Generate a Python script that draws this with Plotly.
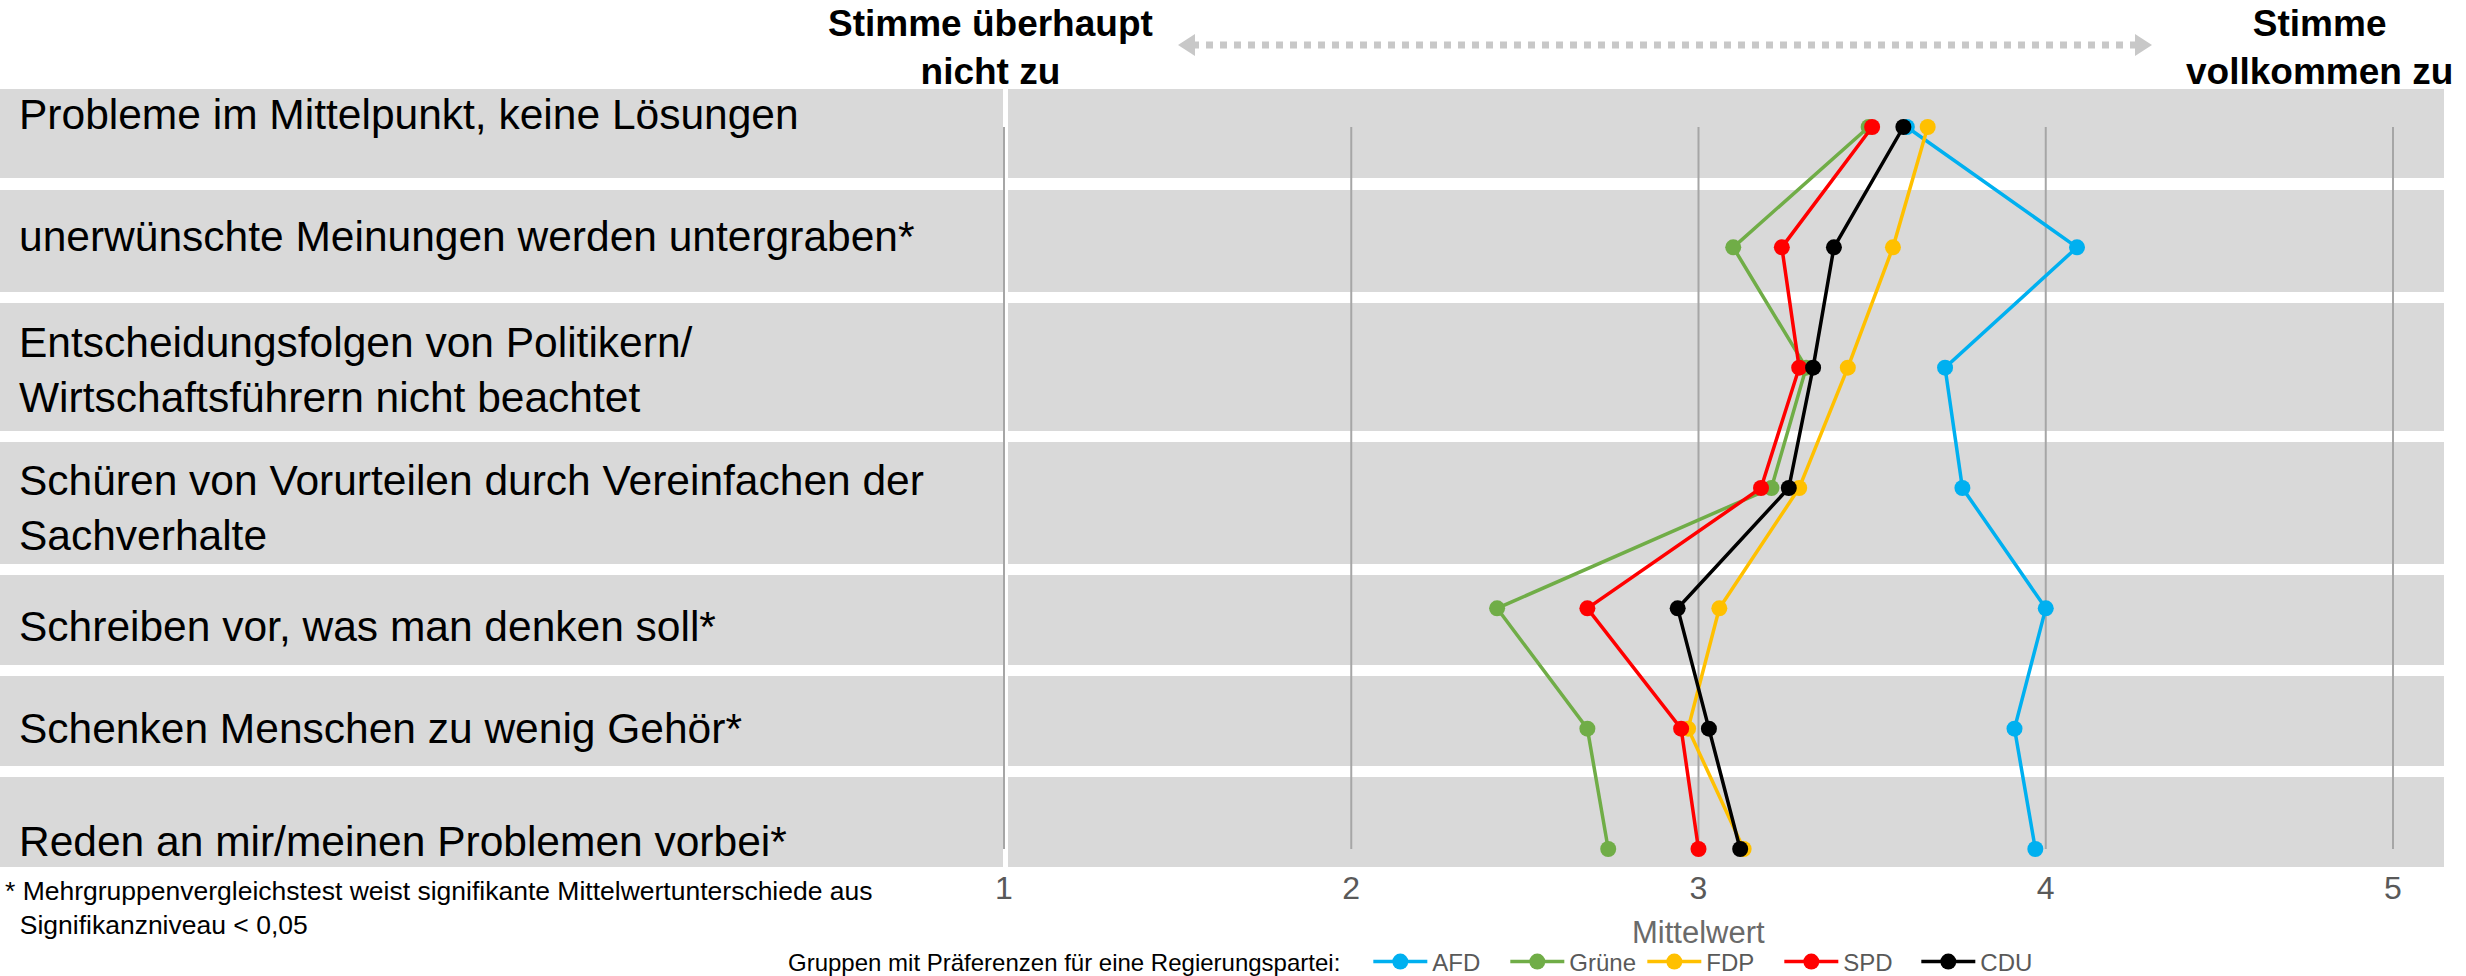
import plotly.graph_objects as go

# Statements (rows, top to bottom)
items = [
    "Probleme im Mittelpunkt, keine Lösungen",
    "unerwünschte Meinungen werden untergraben*",
    "Entscheidungsfolgen von Politikern/<br>Wirtschaftsführern nicht beachtet",
    "Schüren von Vorurteilen durch Vereinfachen der<br>Sachverhalte",
    "Schreiben vor, was man denken soll*",
    "Schenken Menschen zu wenig Gehör*",
    "Reden an mir/meinen Problemen vorbei*",
]

# Mean values per party group
afd = [3.60, 4.09, 3.71, 3.76, 4.00, 3.91, 3.97]
gruene = [3.49, 3.10, 3.31, 3.21, 2.42, 2.68, 2.74]
fdp = [3.66, 3.56, 3.43, 3.29, 3.06, 2.97, 3.13]
spd = [3.50, 3.24, 3.29, 3.18, 2.68, 2.95, 3.00]
cdu = [3.59, 3.39, 3.33, 3.26, 2.94, 3.03, 3.12]

parties = ["AFD", "Grüne", "FDP", "SPD", "CDU"]
colors = ["#00B0F0", "#70AD47", "#FFC000", "#FF0000", "#000000"]
scale_ticks = [1, 2, 3, 4, 5]

FONT = "Arial, Liberation Sans, sans-serif"

# page geometry in pixels (body margin is removed, so page == figure)
W, H = 2466, 976
PLOT_TOP, PLOT_BOTTOM = 80, 870
X1_PX, X5_PX = 1004, 2393
ROW0_PX, ROW_STEP = 127, 120.33

unit = (X5_PX - X1_PX) / (scale_ticks[-1] - scale_ticks[0])
x_range = [scale_ticks[0] - X1_PX / unit, scale_ticks[-1] + (W - X5_PX) / unit]
y_range = [(PLOT_BOTTOM - ROW0_PX) / ROW_STEP, (PLOT_TOP - ROW0_PX) / ROW_STEP]


def px(p):
    return p / W


def py(p):
    return (PLOT_BOTTOM - p) / (PLOT_BOTTOM - PLOT_TOP)


# gray row bands (top, bottom) in pixels, and label centres
bands = [(89, 178), (190, 292), (303, 431), (442, 564), (575, 665), (676, 766), (777, 867)]
label_centres = [114, 237, 370, 508, 626, 728, 841]

fig = go.Figure()

series = [afd, gruene, fdp, spd, cdu]
for name, vals, col in zip(parties, series, colors):
    fig.add_trace(go.Scatter(
        x=vals, y=items, name=name, mode="lines+markers",
        line=dict(color=col, width=3.5),
        marker=dict(color=col, size=16),
    ))

shapes = []
for top, bot in bands:
    # label column band
    shapes.append(dict(type="rect", xref="paper", yref="paper", layer="below",
                       x0=px(0), x1=px(1003), y0=py(bot), y1=py(top),
                       fillcolor="#D9D9D9", line_width=0))
    # plot band
    shapes.append(dict(type="rect", xref="paper", yref="paper", layer="below",
                       x0=px(1008), x1=px(2444), y0=py(bot), y1=py(top),
                       fillcolor="#D9D9D9", line_width=0))

for t in scale_ticks:
    shapes.append(dict(type="line", xref="x", yref="y", layer="below",
                       x0=t, x1=t, y0=0, y1=len(items) - 1,
                       line=dict(color="#A6A6A6", width=2)))

# dotted double arrow at the top
ARROW_Y = 45
shapes.append(dict(type="line", xref="paper", yref="paper",
                   x0=px(1192), x1=px(2138), y0=py(ARROW_Y), y1=py(ARROW_Y),
                   line=dict(color="#C8C8C8", width=7, dash="dot")))
shapes.append(dict(type="path", xref="paper", yref="paper", fillcolor="#C8C8C8", line_width=0,
                   path=f"M {px(1178)} {py(ARROW_Y)} L {px(1195)} {py(ARROW_Y - 11)} "
                        f"L {px(1195)} {py(ARROW_Y + 11)} Z"))
shapes.append(dict(type="path", xref="paper", yref="paper", fillcolor="#C8C8C8", line_width=0,
                   path=f"M {px(2152)} {py(ARROW_Y)} L {px(2135)} {py(ARROW_Y - 11)} "
                        f"L {px(2135)} {py(ARROW_Y + 11)} Z"))

annotations = []
for label, yc in zip(items, label_centres):
    annotations.append(dict(text=label, xref="paper", yref="paper", x=px(17), y=py(yc),
                            xanchor="left", yanchor="middle", align="left", showarrow=False,
                            font=dict(family=FONT, size=42.5, color="#000000")))

annotations.append(dict(text="<b>Stimme überhaupt<br>nicht zu</b>", xref="paper", yref="paper",
                        x=px(990), y=py(47.5), xanchor="center", yanchor="middle", showarrow=False,
                        font=dict(family=FONT, size=37, color="#000000")))
annotations.append(dict(text="<b>Stimme<br>vollkommen zu</b>", xref="paper", yref="paper",
                        x=px(2319), y=py(47.5), xanchor="center", yanchor="middle", showarrow=False,
                        font=dict(family=FONT, size=37, color="#000000")))

annotations.append(dict(text="* Mehrgruppenvergleichstest weist signifikante Mittelwertunterschiede aus"
                             "<br>\u00a0\u00a0Signifikanzniveau &lt; 0,05",
                        xref="paper", yref="paper", x=px(3), y=py(908), xanchor="left",
                        yanchor="middle", align="left", showarrow=False,
                        font=dict(family=FONT, size=26.5, color="#000000")))

annotations.append(dict(text="Mittelwert", xref="x", yref="paper", x=3, y=py(932),
                        xanchor="center", yanchor="middle", showarrow=False,
                        font=dict(family=FONT, size=31, color="#6A6A6A")))

fig.update_layout(
    width=W, height=H,
    margin=dict(l=0, r=0, t=PLOT_TOP, b=H - PLOT_BOTTOM, autoexpand=False),
    plot_bgcolor="white", paper_bgcolor="white",
    font=dict(family=FONT),
    shapes=shapes, annotations=annotations,
    xaxis=dict(range=x_range, tickvals=scale_ticks, ticktext=[str(t) for t in scale_ticks],
               showgrid=False, zeroline=False, showline=False, ticks="", automargin=False,
               ticklabelstandoff=-4,
               tickfont=dict(family=FONT, size=32, color="#595959")),
    yaxis=dict(type="category", categoryarray=items, range=y_range, automargin=False,
               showgrid=False, zeroline=False, showline=False, showticklabels=False, ticks=""),
    showlegend=True,
    legend=dict(orientation="h", x=px(786), xanchor="left", y=py(962), yanchor="middle",
                bgcolor="rgba(0,0,0,0)", itemwidth=54, entrywidth=68, entrywidthmode="pixels",
                title=dict(text="Gruppen mit Präferenzen für eine Regierungspartei:\u00a0\u00a0\u00a0",
                           side="left", font=dict(family=FONT, size=24, color="#000000")),
                font=dict(family=FONT, size=24, color="#595959")),
)

# drop the default 8px body margin so the figure fills the window exactly
fig.write_html("out.html", config={"displayModeBar": False},
               post_script="document.body.style.margin = '0';")
